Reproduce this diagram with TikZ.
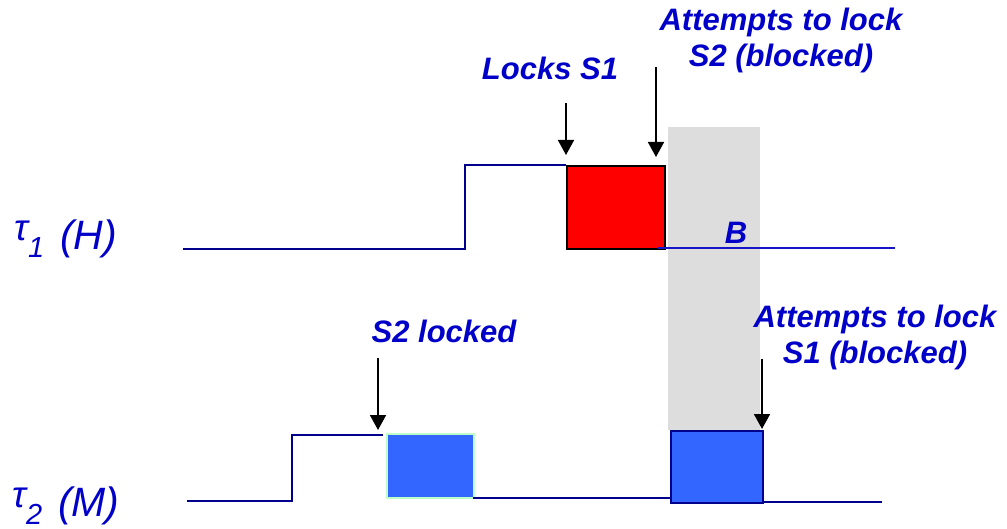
\documentclass[tikz,border=0pt]{standalone}
\usepackage{fontspec}
\setmainfont{Liberation Sans}
\usetikzlibrary{arrows.meta}
\definecolor{txtblue}{RGB}{0,0,200}
\definecolor{navy}{RGB}{0,0,140}
\definecolor{lineblue}{RGB}{20,20,200}
\definecolor{boxblue}{RGB}{51,102,255}
\definecolor{graybar}{RGB}{221,221,221}
\definecolor{lightgreen}{RGB}{190,255,200}
\tikzset{
  lbl/.style={text=txtblue, font=\fontsize{31}{36}\selectfont\bfseries\itshape, align=center, inner sep=0pt},
  task/.style={text=txtblue, font=\fontsize{41}{44}\selectfont\itshape, anchor=base west, inner sep=0pt},
  tline/.style={draw=navy, line width=2.2pt},
  pointer/.style={draw=black, line width=1.7pt, -{Triangle[width=16pt,length=15pt]}},
}
\newcommand{\tasklbl}[2]{\raisebox{9pt}{\fontsize{37}{40}\selectfont τ}\raisebox{-8pt}{\fontsize{29}{30}\selectfont #1}\hspace{16pt}(#2)}
\begin{document}
\begin{tikzpicture}[x=1pt,y=-1pt]
\useasboundingbox (0,0) rectangle (1007,529);
% gray blocking bar
\fill[graybar] (668,127) rectangle (760,430);
% tau1 timeline
\node[task] (t1) at (14,250) {\tasklbl{1}{H}};
\draw[tline] (183,249) -- (465,249) -- (465,165) -- (566,165);
\node[draw=black, line width=2.2pt, fill=red, minimum width=98pt, minimum height=83pt, inner sep=0pt, anchor=north west] (r1) at (566,165) {};
\draw[draw=lineblue, line width=2pt] (658,248) -- (895,248);
\node[lbl] (B) at (736,233) {B};
% labels tau1
\node[lbl] (l1) at (550,68) {Locks S1};
\node[lbl] (l2) at (781,40) {Attempts to lock\\S2 (blocked)};
\coordinate (a1s) at (566,103);
\coordinate (a1e) at (566,155);
\coordinate (a2s) at (656,67);
\coordinate (a2e) at (656,157);
\draw[pointer] (a1s) -- (a1e);
\draw[pointer] (a2s) -- (a2e);
% tau2 timeline
\node[task] (t2) at (12,516) {\tasklbl{2}{M}};
\draw[tline] (187,501) -- (292,501) -- (292,435) -- (383,435);
\node[draw=lightgreen, line width=1.5pt, fill=boxblue, minimum width=87pt, minimum height=64pt, inner sep=0pt, anchor=north west] (b1) at (386,433) {};
\draw[draw=navy, line width=2pt] (473,498) -- (670,498);
\node[draw=navy, line width=2.4pt, fill=boxblue, minimum width=92pt, minimum height=72pt, inner sep=0pt, anchor=north west] (b2) at (670,430) {};
\draw[draw=navy, line width=2pt] (762,502) -- (882,502);
\node[lbl] (l3) at (444,331) {S2 locked};
\node[lbl] (l4) at (875,337) {Attempts to lock\\S1 (blocked)};
\coordinate (a3s) at (378,358);
\coordinate (a3e) at (378,430);
\coordinate (a4s) at (762,359);
\coordinate (a4e) at (762,429);
\draw[pointer] (a3s) -- (a3e);
\draw[pointer] (a4s) -- (a4e);
\end{tikzpicture}
\end{document}
